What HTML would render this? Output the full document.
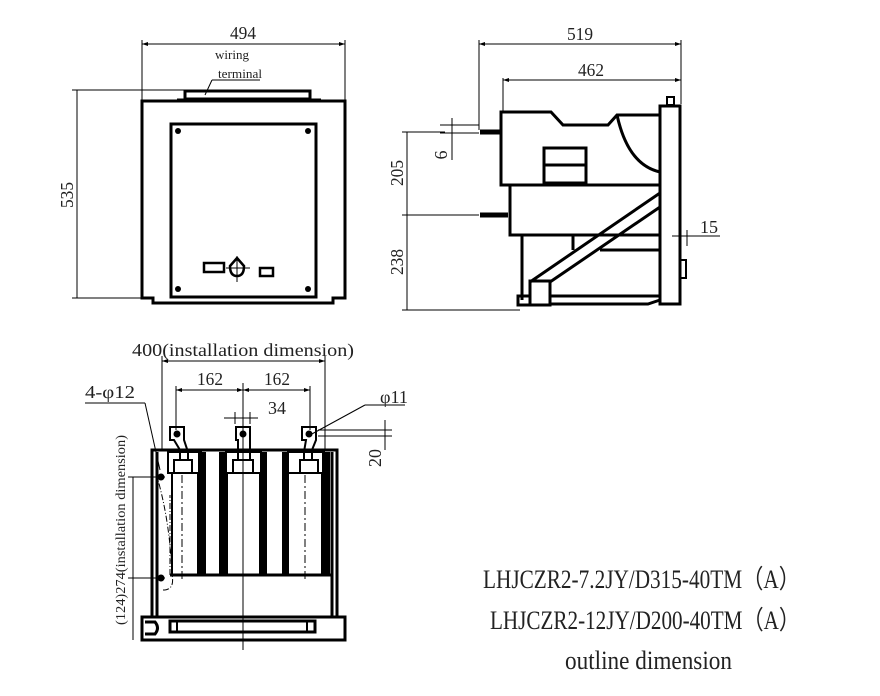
<!DOCTYPE html>
<html><head><meta charset="utf-8"><style>
html,body{margin:0;padding:0;background:#fff;}
svg{display:block;}
text{font-family:"Liberation Serif",serif;fill:#222;}
</style></head><body>
<svg width="880" height="696" viewBox="0 0 880 696" xmlns="http://www.w3.org/2000/svg">
<g fill="none" stroke="#000">
<!-- FRONT VIEW -->
<g stroke-width="1">
<line x1="142" y1="40" x2="142" y2="100"/><line x1="345" y1="40" x2="345" y2="100"/>
<line x1="142" y1="44" x2="345" y2="44"/>
<line x1="72" y1="90" x2="185" y2="90"/><line x1="72" y1="298" x2="150" y2="298"/>
<line x1="77" y1="90" x2="77" y2="298"/>
<line x1="212" y1="80" x2="260" y2="80"/><line x1="212" y1="80" x2="205" y2="95"/>
</g>
<path d="M142 44 l6 -2 v4 z M345 44 l-6 -2 v4 z" fill="#000" stroke="none"/>
<g stroke-width="3">
<rect x="185" y="91" width="125" height="8"/>
<line x1="177" y1="100" x2="321" y2="100"/>
<path d="M142 101 H345 V298 H333 V303 H153 V298 H142 Z"/>
<rect x="171" y="124" width="145" height="173"/>
<rect x="204" y="263" width="20" height="9" stroke-width="2.5"/>
<rect x="260" y="268" width="13" height="8" stroke-width="2.5"/>
<path d="M237 258 L244 266 Q244 276 237 276 Q230 276 230 266 Z" stroke-width="2.5"/>
</g>
<line x1="237" y1="256" x2="237" y2="282" stroke-width="1"/><line x1="226" y1="268" x2="250" y2="268" stroke-width="1"/>
<g fill="#000" stroke="none">
<circle cx="178" cy="131" r="3"/><circle cx="308" cy="131" r="3"/><circle cx="178" cy="289" r="3"/><circle cx="308" cy="289" r="3"/>
</g>

<!-- SIDE VIEW -->
<g stroke-width="1">
<line x1="479" y1="40" x2="479" y2="130"/><line x1="681" y1="40" x2="681" y2="104"/>
<line x1="479" y1="44" x2="681" y2="44"/>
<line x1="503" y1="78" x2="503" y2="112"/><line x1="503" y1="80" x2="681" y2="80"/>
<line x1="402" y1="132" x2="445" y2="132"/><line x1="402" y1="215" x2="479" y2="215"/><line x1="402" y1="310" x2="520" y2="310"/>
<line x1="407" y1="132" x2="407" y2="310"/>
<line x1="440" y1="125" x2="479" y2="125"/><line x1="440" y1="133" x2="479" y2="133"/>
<line x1="452" y1="118" x2="452" y2="160"/>
<line x1="672" y1="236" x2="720" y2="236"/><line x1="681" y1="230" x2="681" y2="246"/><line x1="687" y1="230" x2="687" y2="246"/>
</g>
<path d="M479 44 l6 -2 v4 z M681 44 l-6 -2 v4 z M503 80 l6 -2 v4 z M681 80 l-6 -2 v4 z" fill="#000" stroke="none"/>
<g stroke-width="3">
<path d="M501 112 H551 L563 125 H608 L617 115 H660 V185 H501 Z"/>
<path d="M617 115 Q628 165 660 172"/>
<rect x="544" y="148" width="42" height="35"/><line x1="544" y1="165" x2="586" y2="165"/>
<path d="M510 185 V235 H660"/>
<path d="M522 235 V300"/><line x1="573" y1="235" x2="573" y2="250"/><line x1="600" y1="250" x2="660" y2="250"/>
<line x1="530" y1="282" x2="660" y2="193"/><line x1="550" y1="282" x2="660" y2="207"/>
<rect x="660" y="106" width="20" height="198"/>
<rect x="667" y="97" width="7" height="8" stroke-width="2"/>
<rect x="680" y="260" width="6" height="18" stroke-width="2"/>
<rect x="530" y="281" width="20" height="24"/>
<rect x="518" y="296" width="12" height="9"/>
<path d="M550 296 H660 M550 304 H648 L660 300"/>
</g>
<g stroke-width="5"><line x1="480" y1="132" x2="501" y2="132"/><line x1="480" y1="215" x2="508" y2="215"/></g>

<!-- BOTTOM VIEW -->
<g stroke-width="1">
<line x1="162" y1="356" x2="162" y2="450"/><line x1="325" y1="356" x2="325" y2="450"/>
<line x1="162" y1="361" x2="325" y2="361"/>
<line x1="176" y1="386" x2="176" y2="430"/><line x1="310" y1="386" x2="310" y2="430"/><line x1="243" y1="383" x2="243" y2="650"/>
<line x1="176" y1="390" x2="310" y2="390"/>
<line x1="224" y1="418" x2="258" y2="418"/><line x1="235" y1="412" x2="235" y2="424"/><line x1="250" y1="412" x2="250" y2="424"/>
<line x1="85" y1="403" x2="145" y2="403"/><line x1="145" y1="403" x2="160" y2="470"/>
<line x1="405" y1="405" x2="365" y2="405"/><line x1="365" y1="405" x2="310" y2="435"/>
<line x1="318" y1="430" x2="392" y2="430"/><line x1="318" y1="436" x2="392" y2="436"/>
<line x1="385" y1="420" x2="385" y2="450"/>
<line x1="128" y1="477" x2="165" y2="477"/><line x1="128" y1="578" x2="165" y2="578"/>
<line x1="133" y1="477" x2="133" y2="640"/>
<path d="M170 575 V495 M156 473 Q170 520 172 575 M163 590 Q175 590 172 575" stroke-dasharray="6 2 1 2"/>
<line x1="182" y1="475" x2="182" y2="580" stroke-dasharray="8 3 2 3"/><line x1="305" y1="475" x2="305" y2="580" stroke-dasharray="8 3 2 3"/>
</g>
<path d="M162 361 l6 -2 v4 z M325 361 l-6 -2 v4 z M176 390 l6 -2 v4 z M310 390 l-6 -2 v4 z M243 390 l-6 -2 v4 z M243 390 l6 -2 v4 z" fill="#000" stroke="none"/>
<g stroke-width="3">
<path d="M152 617 V450 H337 V617"/>
<path d="M157 617 V452 M332 452 V617"/>
<line x1="170" y1="575" x2="332" y2="575"/>
<rect x="142" y="617" width="203" height="23"/>
<rect x="170" y="621" width="145" height="11"/><line x1="177" y1="621" x2="177" y2="632" stroke-width="2"/><line x1="307" y1="621" x2="307" y2="632" stroke-width="2"/>
<path d="M145 622 H155 Q160 628 155 634 H145"/>
<rect x="172" y="473" width="26" height="102" stroke-width="2"/>
<rect x="227" y="473" width="33" height="102" stroke-width="2"/>
<rect x="288" y="473" width="34" height="102" stroke-width="2"/>
<rect x="168" y="452" width="33" height="21" stroke-width="2"/>
<rect x="226" y="452" width="35" height="21" stroke-width="2"/>
<rect x="288" y="452" width="36" height="21" stroke-width="2"/>
<rect x="174" y="460" width="18" height="13" stroke-width="2"/>
<rect x="233" y="460" width="20" height="13" stroke-width="2"/>
<rect x="300" y="460" width="18" height="13" stroke-width="2"/>
<path d="M170 427 H184 V440 L188 452 V460 H180 V450 L174 440 H170 Z" stroke-width="2"/>
<path d="M236 427 H250 V460 H238 V440 H236 Z" stroke-width="2"/>
<path d="M302 427 H316 V440 L312 450 V460 H304 V452 L306 440 H302 Z" stroke-width="2"/>
</g>
<g fill="#000" stroke="none">
<rect x="198" y="452" width="8" height="123"/><rect x="219" y="452" width="8" height="123"/>
<rect x="260" y="452" width="7" height="123"/><rect x="282" y="452" width="7" height="123"/>
<rect x="322" y="452" width="8" height="123"/>
<circle cx="177" cy="434" r="3.5"/><circle cx="243" cy="434" r="3.5"/><circle cx="309" cy="434" r="3.5"/>
<circle cx="161" cy="477" r="3.5"/><circle cx="161" cy="578" r="3.5"/>
</g>
</g>

<!-- TEXT -->
<g font-size="18">
<text x="243" y="39" text-anchor="middle" textLength="26" lengthAdjust="spacingAndGlyphs">494</text>
<text x="232" y="59" font-size="13" text-anchor="middle" textLength="34" lengthAdjust="spacingAndGlyphs">wiring</text>
<text x="240" y="78" font-size="13" text-anchor="middle" textLength="44" lengthAdjust="spacingAndGlyphs">terminal</text>
<text transform="translate(73,195) rotate(-90)" text-anchor="middle" textLength="26" lengthAdjust="spacingAndGlyphs">535</text>
<text x="580" y="40" text-anchor="middle" textLength="26" lengthAdjust="spacingAndGlyphs">519</text>
<text x="591" y="76" text-anchor="middle" textLength="26" lengthAdjust="spacingAndGlyphs">462</text>
<text transform="translate(403,173) rotate(-90)" text-anchor="middle" textLength="26" lengthAdjust="spacingAndGlyphs">205</text>
<text transform="translate(403,262) rotate(-90)" text-anchor="middle" textLength="26" lengthAdjust="spacingAndGlyphs">238</text>
<text transform="translate(447,155) rotate(-90)" text-anchor="middle">6</text>
<text x="709" y="233" text-anchor="middle" textLength="18" lengthAdjust="spacingAndGlyphs">15</text>
<text x="243" y="356" text-anchor="middle" textLength="222" lengthAdjust="spacingAndGlyphs">400(installation dimension)</text>
<text x="210" y="385" text-anchor="middle" textLength="26" lengthAdjust="spacingAndGlyphs">162</text>
<text x="277" y="385" text-anchor="middle" textLength="26" lengthAdjust="spacingAndGlyphs">162</text>
<text x="277" y="414" text-anchor="middle" textLength="18" lengthAdjust="spacingAndGlyphs">34</text>
<text x="85" y="398" textLength="50" lengthAdjust="spacingAndGlyphs">4-φ12</text>
<text x="380" y="403" textLength="28" lengthAdjust="spacingAndGlyphs">φ11</text>
<text transform="translate(381,458) rotate(-90)" text-anchor="middle" textLength="18" lengthAdjust="spacingAndGlyphs">20</text>
<text transform="translate(125,530) rotate(-90)" text-anchor="middle" font-size="14" textLength="190" lengthAdjust="spacingAndGlyphs">(124)274(installation dimension)</text>
</g>
<g font-size="26">
<text x="483" y="588" textLength="317" lengthAdjust="spacingAndGlyphs">LHJCZR2-7.2JY/D315-40TM（A）</text>
<text x="490" y="629" textLength="310" lengthAdjust="spacingAndGlyphs">LHJCZR2-12JY/D200-40TM（A）</text>
<text x="565" y="669" textLength="167" lengthAdjust="spacingAndGlyphs">outline dimension</text>
</g>
</svg>
</body></html>
